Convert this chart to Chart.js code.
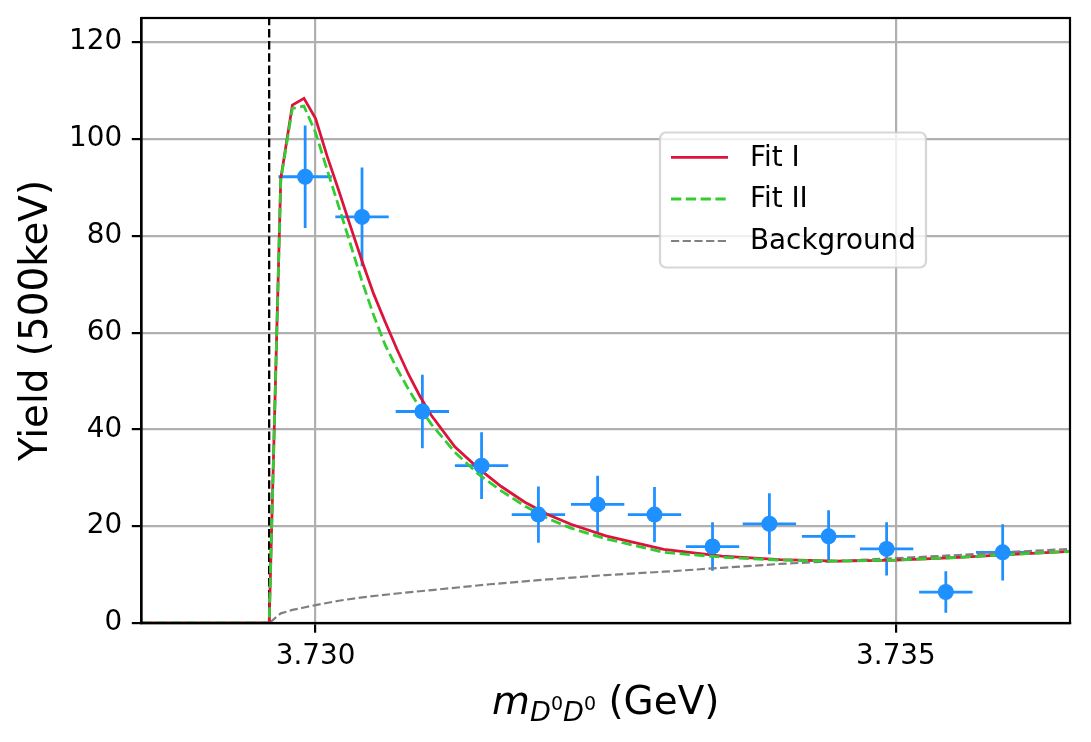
<!DOCTYPE html>
<html><head><meta charset="utf-8">
<script src="https://cdn.jsdelivr.net/npm/chart.js@4.4.0/dist/chart.umd.min.js"></script>
<style>html,body{margin:0;padding:0;background:#fff;}canvas{display:block;}</style>
</head><body>
<canvas id="c" width="1091" height="742"></canvas>
<script>
// ---- data ----
const massX    = [3.72991, 3.73040, 3.73092, 3.73143, 3.73192, 3.73243, 3.73292, 3.73342, 3.73391, 3.73442, 3.73492, 3.73543, 3.73592];
const yieldY   = [92.2, 83.9, 43.7, 32.5, 22.4, 24.5, 22.4, 15.8, 20.5, 17.9, 15.3, 6.4, 14.6];
const yieldErr = [10.6, 10.2, 7.6, 6.9, 5.8, 5.9, 5.7, 5.0, 6.3, 5.4, 5.5, 4.3, 5.8];
const massErr  = [0.00023, 0.00023, 0.00023, 0.00023, 0.00023, 0.00023, 0.00023, 0.00023, 0.00023, 0.00023, 0.00023, 0.00023, 0.00023];

const curveX = [3.7285, 3.7296, 3.7297, 3.7298, 3.7299, 3.7300, 3.7301, 3.7302, 3.7303, 3.7304, 3.7305, 3.7306, 3.7307, 3.7308, 3.7309, 3.7310, 3.7312, 3.7314, 3.7316, 3.7318, 3.7320, 3.7322, 3.7325, 3.7330, 3.7335, 3.7340, 3.7345, 3.7350, 3.7355, 3.7360, 3.7365];
const fit1Y  = [0, 0, 91.8, 107.0, 108.4, 104.2, 96.4, 89.3, 82.0, 74.8, 68.0, 62.2, 56.6, 51.4, 46.8, 42.8, 36.4, 32.0, 28.2, 25.0, 22.4, 20.4, 18.0, 15.2, 13.8, 13.1, 12.8, 13.0, 13.5, 14.2, 14.8];
const fit2Y  = [0, 0, 91.5, 106.3, 106.8, 101.3, 93.6, 86.0, 78.3, 70.6, 63.6, 57.4, 52.6, 48.3, 44.4, 41.0, 35.3, 30.8, 27.3, 24.2, 21.6, 19.6, 17.4, 14.6, 13.6, 13.0, 12.8, 13.0, 13.5, 14.2, 14.8];

const bkgX = [3.7285, 3.7296, 3.7297, 3.7298, 3.7299, 3.7300, 3.7302, 3.7304, 3.7307, 3.7310, 3.7315, 3.7320, 3.7325, 3.7330, 3.7335, 3.7340, 3.7345, 3.7350, 3.7355, 3.7360, 3.7365];
const bkgY = [0, 0, 2.0, 2.7, 3.2, 3.7, 4.6, 5.3, 6.1, 6.8, 8.0, 9.0, 9.9, 10.6, 11.4, 12.2, 12.8, 13.4, 14.0, 14.7, 15.3];

const thresholdX = [3.7296];
const xTicks = [3.730, 3.735];
const yTicks = [0, 20, 40, 60, 80, 100, 120];
const xRange = [3.7285, 3.7365];
const yRange = [0, 125];
const seriesNames = ['Fit I', 'Fit II', 'Background'];
const yTitle = 'Yield (500keV)';

// ---- build ----
const FONT = '"DejaVu Sans", sans-serif';
Chart.defaults.font.family = FONT;
Chart.defaults.color = '#000';

const pts = (xs, ys) => xs.map((x, i) => ({x: x, y: ys[i]}));

const errorBars = {
  id: 'errorBars',
  beforeDatasetsDraw(chart) {
    const {ctx, scales: {x, y}} = chart;
    ctx.save();
    ctx.beginPath();
    ctx.rect(chart.chartArea.left, chart.chartArea.top, chart.chartArea.right - chart.chartArea.left, chart.chartArea.bottom - chart.chartArea.top);
    ctx.clip();
    ctx.strokeStyle = '#1e90ff';
    ctx.lineWidth = 2.78;
    ctx.lineCap = 'butt';
    massX.forEach((mx, i) => {
      const px = x.getPixelForValue(mx), py = y.getPixelForValue(yieldY[i]);
      ctx.beginPath();
      ctx.moveTo(x.getPixelForValue(mx - massErr[i]), py);
      ctx.lineTo(x.getPixelForValue(mx + massErr[i]), py);
      ctx.moveTo(px, y.getPixelForValue(yieldY[i] - yieldErr[i]));
      ctx.lineTo(px, y.getPixelForValue(yieldY[i] + yieldErr[i]));
      ctx.stroke();
    });
    ctx.restore();
  }
};

const frame = {
  id: 'frame',
  afterDatasetsDraw(chart) {
    const {ctx, chartArea: a} = chart;
    ctx.save();
    ctx.strokeStyle = '#000';
    ctx.lineWidth = 2.2;
    ctx.strokeRect(a.left, a.top, a.right - a.left, a.bottom - a.top);
    ctx.restore();
  }
};

const customLegend = {
  id: 'customLegend',
  afterDraw(chart) {
    const {ctx} = chart;
    const bx = 660, by = 132.5, bw = 266, bh = 135, r = 6;
    ctx.save();
    ctx.beginPath();
    ctx.moveTo(bx + r, by);
    ctx.arcTo(bx + bw, by, bx + bw, by + bh, r);
    ctx.arcTo(bx + bw, by + bh, bx, by + bh, r);
    ctx.arcTo(bx, by + bh, bx, by, r);
    ctx.arcTo(bx, by, bx + bw, by, r);
    ctx.closePath();
    ctx.fillStyle = 'rgba(255,255,255,0.8)';
    ctx.fill();
    ctx.strokeStyle = 'rgba(204,204,204,0.8)';
    ctx.lineWidth = 2.2;
    ctx.stroke();
    const rows = [157.3, 199, 241];
    [0, 1, 2].forEach(i => {
      const ds = chart.data.datasets[i];
      ctx.beginPath();
      ctx.strokeStyle = ds.borderColor;
      ctx.lineWidth = ds.borderWidth;
      ctx.setLineDash(ds.borderDash || []);
      ctx.moveTo(671, rows[i]);
      ctx.lineTo(728, rows[i]);
      ctx.stroke();
      ctx.setLineDash([]);
      ctx.fillStyle = '#000';
      ctx.font = '27.8px ' + FONT;
      ctx.textBaseline = 'middle';
      ctx.textAlign = 'left';
      ctx.fillText(ds.label, 750, rows[i] + 1);
    });
    ctx.restore();
  }
};

const xTitle = {
  id: 'xTitle',
  afterDraw(chart) {
    const {ctx, chartArea: a} = chart;
    const F = 38.9, S = 27.2, SS = 19;
    const parts = [
      {t: 'm', f: 'italic ' + F + 'px ' + FONT, dy: 0},
      {t: 'D', f: 'italic ' + S + 'px ' + FONT, dy: 7.5},
      {t: '0', f: SS + 'px ' + FONT, dy: -3.5},
      {t: 'D', f: 'italic ' + S + 'px ' + FONT, dy: 7.5},
      {t: '0', f: SS + 'px ' + FONT, dy: -3.5},
      {t: ' (GeV)', f: F + 'px ' + FONT, dy: 0}
    ];
    ctx.save();
    let total = 0;
    parts.forEach(p => { ctx.font = p.f; p.w = ctx.measureText(p.t).width; total += p.w; });
    let cx = (a.left + a.right) / 2 - total / 2;
    const base = 713.5;
    ctx.fillStyle = '#000';
    ctx.textBaseline = 'alphabetic';
    ctx.textAlign = 'left';
    parts.forEach(p => { ctx.font = p.f; ctx.fillText(p.t, cx, base + p.dy); cx += p.w; });
    ctx.restore();
  }
};

const gridCfg = {color: '#b0b0b0', lineWidth: 2.2, tickColor: '#000', tickLength: 9.7, tickWidth: 2.2};

new Chart(document.getElementById('c'), {
  type: 'scatter',
  data: {
    datasets: [
      {label: seriesNames[0], data: pts(curveX, fit1Y), showLine: true, pointRadius: 0, borderColor: '#dc143c', borderWidth: 2.78, fill: false, order: 3},
      {label: seriesNames[1], data: pts(curveX, fit2Y), showLine: true, pointRadius: 0, borderColor: '#32cd32', borderWidth: 2.78, borderDash: [10.3, 4.5], fill: false, order: 2},
      {label: seriesNames[2], data: pts(bkgX, bkgY), showLine: true, pointRadius: 0, borderColor: '#808080', borderWidth: 2.2, borderDash: [8.2, 3.5], fill: false, order: 4},
      {label: 'threshold', data: [{x: thresholdX[0], y: yRange[0]}, {x: thresholdX[0], y: yRange[1]}], showLine: true, pointRadius: 0, borderColor: '#000', borderWidth: 2.3, borderDash: [8.5, 3.7], order: 5},
      {label: 'data', data: pts(massX, yieldY), showLine: false, pointRadius: 8, pointHoverRadius: 8, backgroundColor: '#1e90ff', borderWidth: 0, order: 1}
    ]
  },
  options: {
    responsive: false,
    animation: false,
    events: [],
    layout: {padding: {left: 0, top: 18, right: 21, bottom: 0}},
    plugins: {legend: {display: false}, tooltip: {enabled: false}},
    scales: {
      x: {
        type: 'linear', min: xRange[0], max: xRange[1],
        afterBuildTicks: s => { s.ticks = xTicks.map(v => ({value: v})); },
        afterFit: s => { s.height = 119; s.paddingLeft = 0; s.paddingRight = 0; },
        ticks: {callback: v => Number(v).toFixed(3), font: {size: 27.8}, color: '#000', padding: 7, maxRotation: 0, autoSkip: false},
        grid: gridCfg,
        border: {display: true, color: '#000', width: 2.2}
      },
      y: {
        type: 'linear', min: yRange[0], max: yRange[1],
        afterBuildTicks: s => { s.ticks = yTicks.map(v => ({value: v})); },
        afterFit: s => { s.width = 141.5; s.paddingTop = 0; s.paddingBottom = 0; },
        ticks: {font: {size: 27.8}, color: '#000', padding: 9.7},
        grid: gridCfg,
        border: {display: true, color: '#000', width: 2.2},
        title: {display: true, text: yTitle, font: {size: 38.9}, color: '#000', padding: {top: 14, bottom: 0}}
      }
    }
  },
  plugins: [errorBars, frame, customLegend, xTitle]
});
</script>
</body></html>
